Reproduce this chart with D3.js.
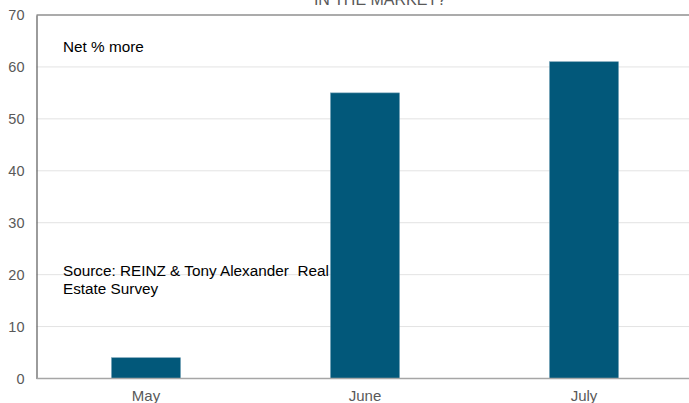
<!DOCTYPE html>
<html><head><meta charset="utf-8">
<script src="https://cdn.jsdelivr.net/npm/d3@7"></script>
<style>
body{margin:0;background:#fff;overflow:hidden}
svg{display:block;font-family:"Liberation Sans",Arial,sans-serif}
</style></head>
<body>
<svg id="c" width="689" height="403"></svg>
<script>
const categories = ["May", "June", "July"];
const values = [4, 55, 61];
const yTicks = [0, 10, 20, 30, 40, 50, 60, 70];
const title = "IN THE MARKET?";
const noteUnits = "Net % more";
const noteSource = ["Source: REINZ & Tony Alexander  Real", "Estate Survey"];

const svg = d3.select("#c");
const m = {left: 36.5, top: 15, right: 693.5, bottom: 378.5};

const x = d3.scaleBand().domain(categories).range([m.left, m.right])
  .paddingInner(0.685).paddingOuter(0.3425);
const y = d3.scaleLinear().domain([0, 70]).range([m.bottom, m.top]);

// gridlines
svg.append("g").selectAll("line").data(yTicks.filter(d => d > 0 && d < 70)).join("line")
  .attr("x1", m.left).attr("x2", 689)
  .attr("y1", d => y(d)).attr("y2", d => y(d))
  .attr("stroke", "#e3e3e3").attr("stroke-width", 1);

// top border
svg.append("line").attr("x1", m.left).attr("x2", 689)
  .attr("y1", y(70)).attr("y2", y(70)).attr("stroke", "#595959").attr("stroke-width", 1.2);

// bars
svg.append("g").selectAll("rect").data(values).join("rect")
  .attr("x", (d, i) => x(categories[i]))
  .attr("width", x.bandwidth())
  .attr("y", d => y(d))
  .attr("height", d => y(0) - y(d))
  .attr("fill", "#02587a")
  .attr("stroke", "#6f9db3").attr("stroke-width", 0.6);

// y axis
const ya = d3.axisLeft(y).tickValues(yTicks).tickSize(0).tickPadding(12);
const gy = svg.append("g").attr("transform", `translate(${m.left},0)`).call(ya);
gy.select(".domain").attr("stroke", "#595959").attr("stroke-width", 1.2);
gy.selectAll("text").attr("fill", "#595959").attr("font-size", 14.5)
  .attr("font-family", "Liberation Sans, Arial, sans-serif");

// x axis
const xa = d3.axisBottom(x).tickSize(0).tickPadding(12);
const gx = svg.append("g").attr("transform", `translate(0,${m.bottom})`).call(xa);
gx.select(".domain").remove();
gx.selectAll("text").attr("fill", "#595959").attr("font-size", 15)
  .attr("font-family", "Liberation Sans, Arial, sans-serif");
svg.append("line").attr("x1", m.left).attr("x2", 689)
  .attr("y1", m.bottom).attr("y2", m.bottom).attr("stroke", "#a6a6a6").attr("stroke-width", 1.5);

// title (cut off at top)
svg.append("text").attr("x", 380).attr("y", 5).attr("text-anchor", "middle")
  .attr("fill", "#595959").attr("font-size", 16).text(title);

// notes
svg.append("text").attr("x", 63).attr("y", 52).attr("font-size", 15.3).attr("fill", "#000").text(noteUnits);
svg.append("text").attr("font-size", 15.3).attr("fill", "#000")
  .style("white-space", "pre")
  .selectAll("tspan").data(noteSource).join("tspan")
  .attr("x", 63).attr("y", (d, i) => 276 + i * 18).text(d => d);
</script>
</body></html>
